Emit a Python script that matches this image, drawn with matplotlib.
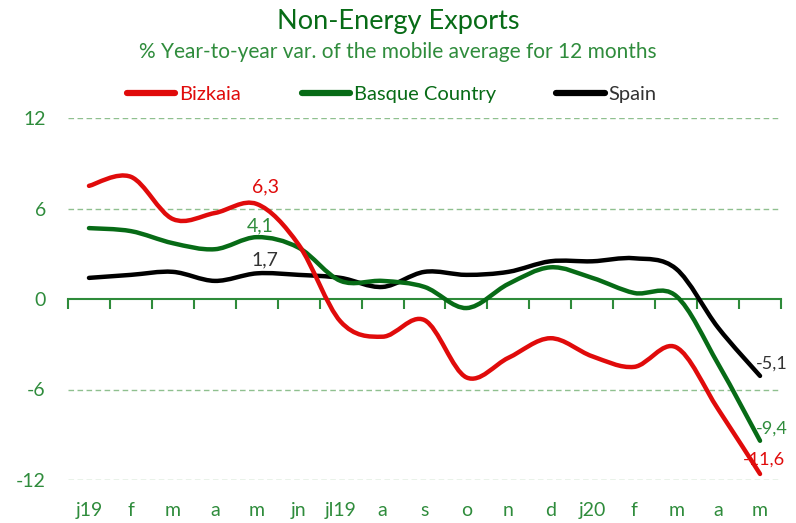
#!/usr/bin/env python3
"""Non-energy exports, smoothed year-to-year variation lines."""

import matplotlib.pyplot as plt
import numpy as np
from matplotlib.path import Path
from matplotlib.patches import PathPatch
from matplotlib.lines import Line2D

plt.rcParams["font.family"] = ["Lato", "DejaVu Sans"]

months = ["j19", "f", "m", "a", "m", "jn", "jl19", "a", "s", "o", "n", "d",
          "j20", "f", "m", "a", "m"]
bizkaia = [7.5, 8.1, 5.3, 5.7, 6.3, 3.6, -1.5, -2.5, -1.4, -5.2, -3.9, -2.6,
           -3.8, -4.5, -3.2, -7.3, -11.6]
basque = [4.7, 4.5, 3.7, 3.3, 4.1, 3.4, 1.2, 1.2, 0.8, -0.6, 1.0, 2.1,
          1.4, 0.4, 0.2, -4.3, -9.4]
spain = [1.4, 1.6, 1.8, 1.2, 1.7, 1.6, 1.4, 0.8, 1.8, 1.6, 1.8, 2.5,
         2.5, 2.7, 2.0, -1.9, -5.1]

RED = "#E00B0B"
GREEN = "#076B16"
BLACK = "#000000"
AXIS_GREEN = "#2E8B3A"
TEXT_GREEN = "#2F8C3C"


def smooth_path(xs, ys):
    # Excel-style smoothed line: bezier segments with catmull-rom control points
    pts = np.column_stack([xs, ys]).astype(float)
    n = len(pts)
    verts = [pts[0]]
    codes = [Path.MOVETO]
    for i in range(n - 1):
        p0 = pts[i - 1] if i > 0 else pts[i]
        p1 = pts[i]
        p2 = pts[i + 1]
        p3 = pts[i + 2] if i + 2 < n else pts[i + 1]
        c1 = p1 + (p2 - p0) / 6.0
        c2 = p2 - (p3 - p1) / 6.0
        verts += [c1, c2, p2]
        codes += [Path.CURVE4] * 3
    return Path(verts, codes)


fig = plt.figure(figsize=(7.96, 5.23), dpi=100)
ax = fig.add_axes([68 / 796, 43 / 523, 713 / 796, 362 / 523])

x = np.arange(len(months))
for series, color in [(spain, BLACK), (basque, GREEN), (bizkaia, RED)]:
    patch = PathPatch(smooth_path(x, series), facecolor="none", edgecolor=color,
                      lw=3.2, capstyle="round", joinstyle="round", zorder=3)
    ax.add_patch(patch)

ax.set_xlim(-0.5, len(months) - 0.5)
ax.set_ylim(-12, 12)

for yv in [12, 6, -6, -12]:
    ax.axhline(yv, color="#8FC08F", lw=1.0, ls=(0, (4, 2.5)), zorder=1)

for side in ["left", "right", "top"]:
    ax.spines[side].set_visible(False)
ax.spines["bottom"].set_position(("data", 0))
ax.spines["bottom"].set_color(AXIS_GREEN)
ax.spines["bottom"].set_linewidth(1.5)
ax.set_xticks(np.arange(-0.5, len(months), 1.0))
ax.set_xticklabels([])
ax.tick_params(axis="x", direction="out", length=7, width=1.5, color=AXIS_GREEN)

ax.set_yticks([12, 6, 0, -6, -12])
ax.set_yticklabels(["12", "6", "0", "-6", "-12"])
ax.tick_params(axis="y", length=0, pad=16, labelsize=14, labelcolor=TEXT_GREEN)

sec = ax.secondary_xaxis(-0.0)
sec.set_xticks(x)
sec.set_xticklabels(months)
sec.tick_params(length=0, pad=16, labelsize=14, labelcolor=TEXT_GREEN)
sec.spines["bottom"].set_visible(False)

# data labels
fs = 14
ax.text(4.2, 6.3 + 0.6, "6,3", color=RED, fontsize=fs, ha="center", va="bottom")
ax.text(4.08, 4.1 + 0.2, "4,1", color=TEXT_GREEN, fontsize=fs, ha="center", va="bottom")
ax.text(4.2, 1.7 + 0.3, "1,7", color="#333333", fontsize=fs, ha="center", va="bottom")
ax.text(15.9, -5.1 + 0.3, "-5,1", color="#333333", fontsize=13, ha="left", va="bottom")
ax.text(15.9, -9.4 + 0.3, "-9,4", color=TEXT_GREEN, fontsize=13, ha="left", va="bottom")
ax.text(15.6, -11.6 + 0.4, "-11,6", color=RED, fontsize=13, ha="left", va="bottom")

fig.text(0.5, 1 - 22 / 523, "Non-Energy Exports", color=GREEN, fontsize=19.5,
         ha="center", va="center")
fig.text(0.5, 1 - 52 / 523, "% Year-to-year var. of the mobile average for 12 months",
         color=TEXT_GREEN, fontsize=15, ha="center", va="center")

handles = [Line2D([], [], color=RED, lw=4.5, solid_capstyle="round"),
           Line2D([], [], color=GREEN, lw=4.5, solid_capstyle="round"),
           Line2D([], [], color=BLACK, lw=4.5, solid_capstyle="round")]
leg = fig.legend(handles, ["Bizkaia", "Basque Country", "Spain"], ncol=3,
                 loc="center", bbox_to_anchor=(392 / 796, 1 - 94 / 523),
                 frameon=False, fontsize=14.5, handlelength=2.4, handletextpad=0.2,
                 columnspacing=3.0)
for txt, c in zip(leg.get_texts(), [RED, GREEN, "#333333"]):
    txt.set_color(c)

fig.savefig("out.png", dpi=100)
